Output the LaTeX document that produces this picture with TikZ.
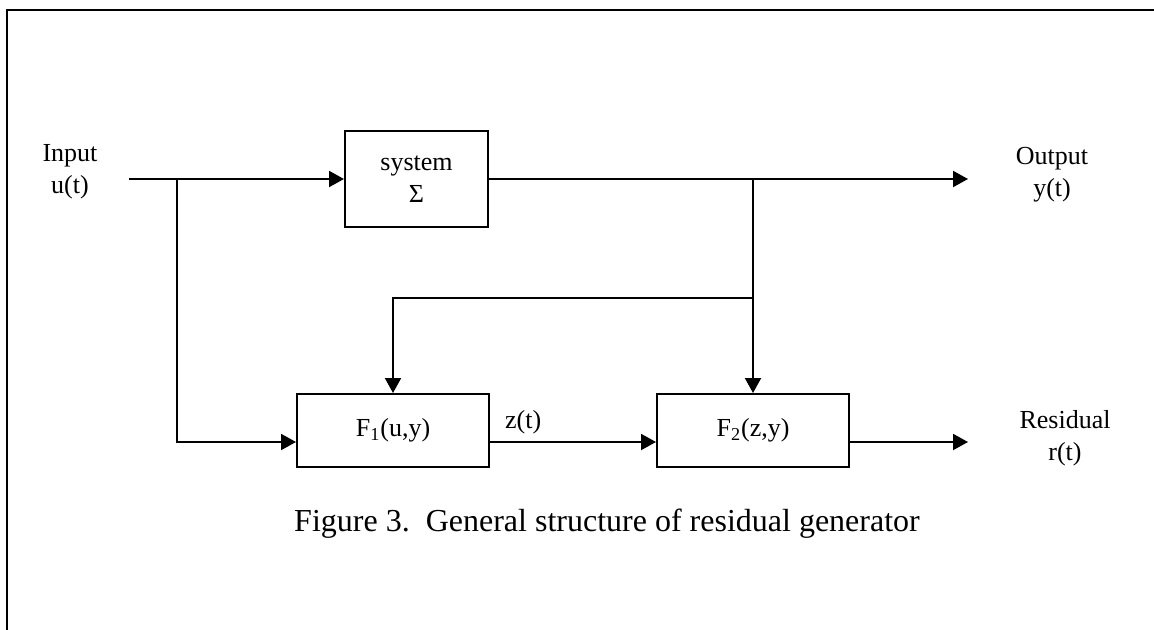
\documentclass[tikz,border=0pt]{standalone}
\usepackage{fontspec}
\setmainfont{Liberation Serif}
\usetikzlibrary{arrows.meta}

\begin{document}
\begin{tikzpicture}[x=0.5pt, y=-0.5pt,
	block/.style={draw, line width=1pt, minimum width=96pt, minimum height=36.5pt, inner sep=0pt, align=center, font=\fontsize{13}{16}\selectfont},
	lbl/.style={align=center, font=\fontsize{13}{16}\selectfont},
	sig/.style={line width=1pt, -{Triangle[length=7.5pt, width=8pt]}}]
	\useasboundingbox (0,0) rectangle (1154,630);
	\draw [line width=1.2pt] (7,630) -- (7,10) -- (1154,10);
	% labels and blocks
	\node[lbl] (in) at (70,172) {Input\\u(t)};
	\node[block, minimum width=71.5pt, minimum height=48pt] (sys) at (416.5,179) {system\\Σ};
	\node[lbl] (out) at (1052,175) {Output\\y(t)};
	\node[block] (f1) at (393,430.5) {F\textsubscript{1}(u,y)};
	\node[block] (f2) at (753,430.5) {F\textsubscript{2}(z,y)};
	\node[lbl] (res) at (1065,438) {Residual\\r(t)};
	\coordinate (u0) at (129,179);
	\coordinate (ub) at (177,179);
	\coordinate (yb) at (753,179);
	\coordinate (fb) at (753,298);
	\coordinate (y0) at (968,179);
	\coordinate (r0) at (968,442);
	% signals
	\draw [sig] (u0) -- (sys.west);
	\draw [sig] (sys.east) -- (y0);
	\draw [sig] (ub) |- ([yshift=-5.75pt]f1.west);
	\draw [sig] (yb) -- (f2.north);
	\draw [sig] (fb) -| (f1.north);
	\draw [sig] ([yshift=-5.75pt]f1.east) --node[lbl, above, pos=0.2]{z(t)} ([yshift=-5.75pt]f2.west);
	\draw [sig] ([yshift=-5.75pt]f2.east) -- (r0);
	\node[font=\fontsize{16}{19}\selectfont] (cap) at (607,524) {Figure 3.\ \ General structure of residual generator};
\end{tikzpicture}
\end{document}
